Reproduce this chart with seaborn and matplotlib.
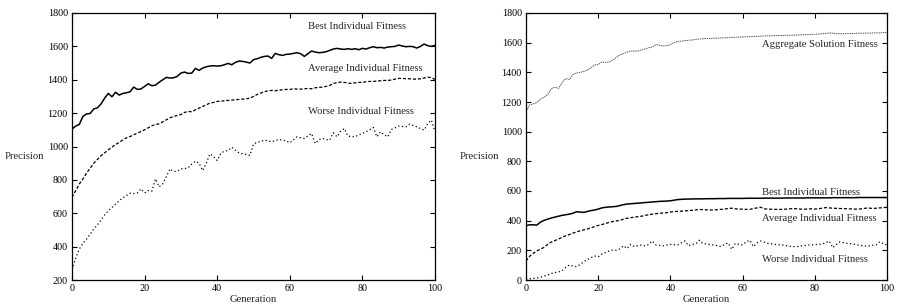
import numpy as np
import pandas as pd
import matplotlib
matplotlib.use("Agg")
import matplotlib.pyplot as plt
import seaborn as sns

# generations 0..100
generations = list(range(101))

# left panel: individual fitness
left_best = [1105, 1122, 1132, 1180, 1195, 1198, 1225, 1232, 1255, 1290,
             1318, 1298, 1325, 1308, 1318, 1322, 1328, 1356, 1342, 1345,
             1360, 1376, 1364, 1368, 1385, 1400, 1414, 1410, 1412, 1420,
             1440, 1446, 1438, 1440, 1468, 1456, 1470, 1478, 1482, 1484,
             1482, 1484, 1490, 1498, 1490, 1504, 1512, 1510, 1506, 1500,
             1520, 1526, 1534, 1540, 1542, 1528, 1558, 1550, 1546, 1552,
             1554, 1558, 1562, 1556, 1540, 1556, 1572, 1566, 1562, 1564,
             1568, 1576, 1584, 1588, 1584, 1582, 1586, 1582, 1586, 1580,
             1588, 1584, 1592, 1598, 1592, 1594, 1590, 1596, 1598, 1600,
             1608, 1602, 1598, 1600, 1598, 1590, 1600, 1614, 1604, 1600,
             1606]
left_avg = [695, 735, 775, 805, 840, 870, 900, 922, 945, 962,
            980, 996, 1012, 1024, 1040, 1052, 1060, 1070, 1080, 1090,
            1100, 1112, 1124, 1132, 1136, 1148, 1160, 1172, 1180, 1186,
            1192, 1204, 1210, 1208, 1220, 1230, 1240, 1250, 1260, 1264,
            1270, 1272, 1274, 1276, 1278, 1280, 1282, 1284, 1286, 1290,
            1300, 1312, 1320, 1328, 1334, 1336, 1334, 1338, 1340, 1342,
            1342, 1346, 1344, 1344, 1346, 1348, 1346, 1352, 1354, 1356,
            1360, 1366, 1378, 1382, 1386, 1384, 1380, 1378, 1382, 1384,
            1384, 1388, 1390, 1390, 1392, 1394, 1396, 1396, 1398, 1404,
            1408, 1408, 1406, 1406, 1404, 1404, 1406, 1410, 1416, 1412,
            1402]
left_worse = [262, 330, 385, 420, 445, 475, 505, 530, 560, 590,
              615, 635, 655, 675, 692, 706, 720, 718, 722, 746,
              722, 736, 732, 806, 758, 776, 820, 866, 850, 852,
              866, 868, 872, 895, 912, 900, 856, 900, 956, 940,
              916, 960, 972, 976, 996, 978, 962, 956, 952, 946,
              1016, 1024, 1030, 1038, 1034, 1028, 1036, 1042, 1038, 1034,
              1022, 1040, 1058, 1052, 1048, 1064, 1078, 1018, 1040, 1048,
              1042, 1038, 1082, 1058, 1090, 1108, 1062, 1060, 1058, 1070,
              1078, 1088, 1100, 1114, 1058, 1088, 1070, 1058, 1102, 1112,
              1122, 1120, 1118, 1134, 1126, 1118, 1108, 1098, 1138, 1158,
              1090]

# right panel: aggregate solution plus individuals
right_aggregate = [1135, 1180, 1188, 1196, 1220, 1232, 1250, 1290, 1300, 1292,
                   1330, 1358, 1352, 1385, 1395, 1400, 1406, 1415, 1430, 1450,
                   1452, 1470, 1466, 1470, 1482, 1500, 1518, 1526, 1536, 1544,
                   1542, 1544, 1552, 1558, 1566, 1570, 1588, 1582, 1578, 1580,
                   1586, 1600, 1608, 1610, 1614, 1616, 1618, 1622, 1625, 1626,
                   1628, 1628, 1630, 1630, 1632, 1632, 1634, 1636, 1636, 1638,
                   1638, 1640, 1640, 1642, 1642, 1644, 1646, 1646, 1646, 1648,
                   1648, 1648, 1650, 1650, 1650, 1652, 1652, 1654, 1654, 1656,
                   1656, 1658, 1660, 1662, 1666, 1664, 1660, 1660, 1660, 1662,
                   1662, 1662, 1664, 1664, 1664, 1664, 1666, 1666, 1666, 1668,
                   1668]
right_best = [366, 372, 372, 370, 390, 402, 410, 418, 424, 430,
              436, 440, 444, 450, 460, 458, 456, 462, 468, 472,
              478, 486, 490, 492, 494, 496, 502, 508, 512, 514,
              516, 518, 520, 522, 524, 526, 528, 530, 531, 532,
              534, 538, 542, 544, 545, 546, 546, 547, 547, 547,
              548, 548, 548, 549, 549, 549, 550, 550, 550, 550,
              550, 551, 551, 551, 551, 551, 552, 552, 552, 552,
              552, 552, 553, 553, 553, 553, 553, 553, 554, 554,
              554, 554, 554, 554, 554, 555, 555, 555, 555, 555,
              555, 555, 556, 556, 556, 556, 556, 556, 556, 556,
              556]
right_avg = [128, 160, 180, 196, 208, 220, 240, 256, 266, 276,
             288, 298, 306, 316, 324, 332, 338, 344, 352, 360,
             368, 374, 380, 388, 394, 398, 402, 410, 416, 420,
             424, 427, 430, 436, 440, 444, 447, 450, 452, 454,
             458, 461, 463, 464, 466, 468, 470, 472, 476, 474,
             473, 472, 472, 474, 476, 478, 482, 484, 480, 478,
             478, 476, 476, 482, 486, 490, 480, 478, 477, 476,
             476, 476, 478, 480, 481, 480, 478, 477, 478, 480,
             478, 480, 484, 488, 486, 484, 483, 482, 481, 480,
             479, 478, 478, 480, 484, 485, 482, 484, 486, 488,
             490]
right_worse = [5, 8, 11, 14, 18, 26, 34, 44, 50, 54,
               62, 85, 101, 94, 90, 105, 123, 138, 150, 162,
               156, 175, 185, 196, 202, 200, 210, 231, 212, 240,
               225, 232, 236, 229, 240, 263, 236, 234, 231, 236,
               240, 238, 236, 250, 263, 231, 240, 243, 268, 245,
               243, 238, 236, 232, 225, 240, 250, 207, 247, 240,
               236, 258, 268, 225, 250, 263, 255, 247, 244, 240,
               238, 236, 232, 228, 225, 225, 228, 232, 236, 236,
               238, 240, 242, 252, 263, 218, 240, 258, 252, 247,
               244, 240, 236, 232, 229, 230, 234, 236, 258, 245,
               236]

sns.set_style("ticks")
plt.rcParams['font.family'] = ['Liberation Serif', 'DejaVu Serif']
plt.rcParams['font.size'] = 7.7

fig = plt.figure(figsize=(9, 3.07), dpi=100)
ax1 = fig.add_axes([72 / 900, 27 / 307, 363 / 900, 267 / 307])
ax2 = fig.add_axes([526 / 900, 27 / 307, 361 / 900, 267 / 307])

# left panel
sns.lineplot(x=generations, y=left_best, ax=ax1, color='k', linewidth=1.1, linestyle='-')
sns.lineplot(x=generations, y=left_avg, ax=ax1, color='k', linewidth=0.9, linestyle=(0, (2.5, 1.5)))
sns.lineplot(x=generations, y=left_worse, ax=ax1, color='k', linewidth=0.9, linestyle=(0, (1, 2)))
ax1.set_ylim(200, 1800)
ax1.set_yticks(range(200, 1801, 200))
ax1.text(65, 1722, 'Best Individual Fitness', va='center', ha='left')
ax1.text(65, 1470, 'Average Individual Fitness', va='center', ha='left')
ax1.text(65, 1207, 'Worse Individual Fitness', va='center', ha='left')

# right panel
sns.lineplot(x=generations, y=right_aggregate, ax=ax2, color='0.35', linewidth=0.7, linestyle=(0, (1.5, 0.8)))
sns.lineplot(x=generations, y=right_best, ax=ax2, color='k', linewidth=1.1, linestyle='-')
sns.lineplot(x=generations, y=right_avg, ax=ax2, color='k', linewidth=0.9, linestyle=(0, (2.5, 1.5)))
sns.lineplot(x=generations, y=right_worse, ax=ax2, color='k', linewidth=0.9, linestyle=(0, (1, 2)))
ax2.set_ylim(0, 1800)
ax2.set_yticks(range(0, 1801, 200))
ax2.text(65.4, 1591, 'Aggregate Solution Fitness', va='center', ha='left')
ax2.text(65.4, 593, 'Best Individual Fitness', va='center', ha='left')
ax2.text(65.4, 414, 'Average Individual Fitness', va='center', ha='left')
ax2.text(65.4, 138, 'Worse Individual Fitness', va='center', ha='left')

for ax in (ax1, ax2):
    ax.set_xlim(0, 100)
    ax.set_xticks(range(0, 101, 20))
    ax.tick_params(direction='in', top=True, right=True, length=3.5, width=0.8,
                   labelsize=7.3, pad=3, colors='k')
    for sp in ax.spines.values():
        sp.set_visible(True)
        sp.set_linewidth(0.9)
        sp.set_color('k')
    ax.set_xlabel('Generation', fontsize=7.7, labelpad=1.5)
    ax.set_ylabel('Precision', fontsize=7.7, rotation=0, va='center')
    ax.yaxis.set_label_coords(-0.13, 0.463)

fig.savefig('out.png', dpi=100)
